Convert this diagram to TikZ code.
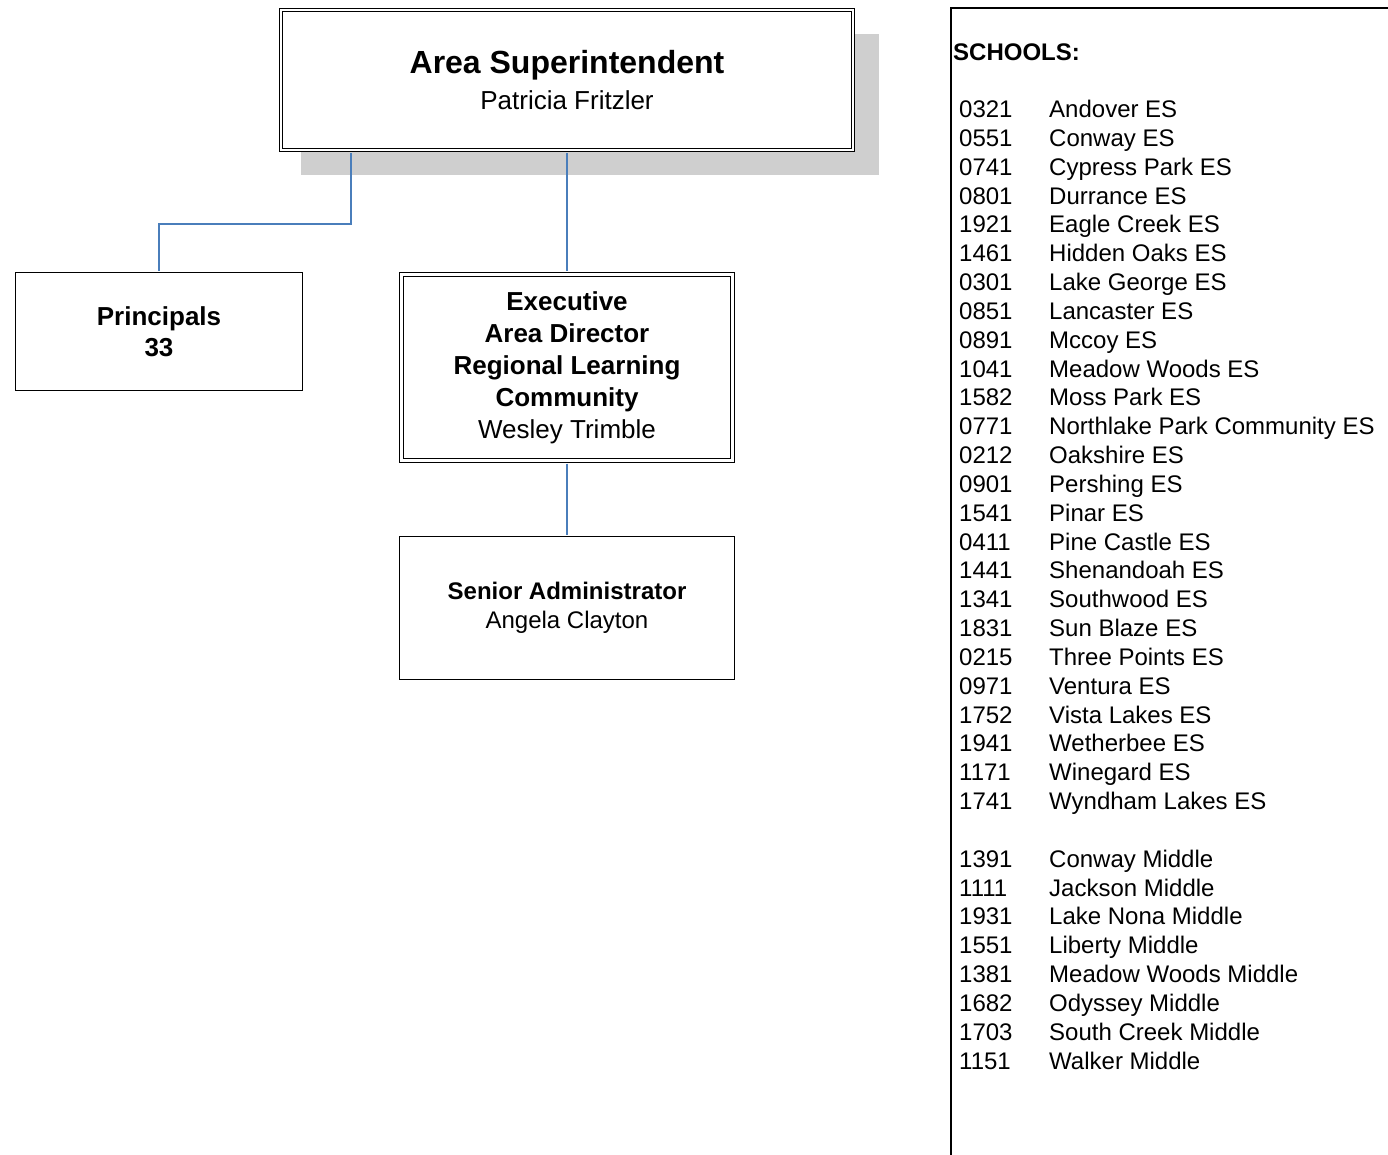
\documentclass[tikz,border=0pt]{standalone}
\usepackage{fontspec}
\setmainfont{Liberation Sans}
\usetikzlibrary{positioning,shadows}
\definecolor{linkblue}{HTML}{4A7EBB}
\definecolor{shadowgray}{HTML}{CFCFCF}

\begin{document}
\begin{tikzpicture}[x=1pt,y=-1pt,
  box/.style={draw,line width=1.3pt,align=center,inner sep=0pt,fill=white},
  dbox/.style={box,double,double distance=2.5pt,line width=1.2pt},
  link/.style={linkblue,line width=1.2pt},
  listtext/.style={anchor=base west,inner sep=0pt,font=\fontsize{24}{28}\selectfont}]
\useasboundingbox (0,0) rectangle (1388,1155);
% org chart boxes
\node[dbox,minimum width=572pt,minimum height=140pt,font=\fontsize{26}{36}\selectfont,
  drop shadow={shadow xshift=23pt,shadow yshift=-24pt,shadow scale=1.01,fill=shadowgray,opacity=1}]
  (sup) at (567,80) {{\fontsize{32}{36}\selectfont\bfseries Area Superintendent}\\
  Patricia Fritzler};
\node[box,minimum width=287pt,minimum height=118pt,font=\fontsize{26}{31}\selectfont\bfseries]
  (prin) at (159,331.5) {Principals\\ 33};
\node[dbox,minimum width=331pt,minimum height=186pt,font=\fontsize{26}{32}\selectfont\bfseries]
  (exec) at (567,367.5) {Executive\\ Area Director\\ Regional Learning\\ Community\\
  {\mdseries Wesley Trimble}};
\node[box,minimum width=335pt,minimum height=143pt,font=\fontsize{24}{29}\selectfont\bfseries]
  (senior) at (567,608) {Senior Administrator\\ {\mdseries Angela Clayton}};
% connectors
\coordinate (bend) at (351,224);
\draw[link,shorten <=2.5pt,shorten >=0.6pt] (sup.south -| bend) -- (bend) -| (prin.north);
\draw[link,shorten <=2.5pt,shorten >=2.5pt] (sup.south) -- (exec.north);
\draw[link,shorten <=2.5pt,shorten >=0.6pt] (exec.south) -- (senior.north);
% schools panel
\coordinate (panelbot) at (951,1155);
\coordinate (panelcorner) at (951,8);
\coordinate (panelright) at (1388,8);
\draw[line width=2pt] (panelbot) -- (panelcorner) -- (panelright);
\node[listtext,font=\fontsize{24}{28}\selectfont\bfseries] (head) at (953,60.6) {SCHOOLS:};
\foreach \num/\name [count=\i from 0] in {0321/Andover ES,0551/Conway ES,0741/Cypress Park ES,
  0801/Durrance ES,1921/Eagle Creek ES,1461/Hidden Oaks ES,0301/Lake George ES,
  0851/Lancaster ES,0891/Mccoy ES,1041/Meadow Woods ES,1582/Moss Park ES,
  0771/Northlake Park Community ES,0212/Oakshire ES,0901/Pershing ES,1541/Pinar ES,
  0411/Pine Castle ES,1441/Shenandoah ES,1341/Southwood ES,1831/Sun Blaze ES,
  0215/Three Points ES,0971/Ventura ES,1752/Vista Lakes ES,1941/Wetherbee ES,
  1171/Winegard ES,1741/Wyndham Lakes ES}{
  \node[listtext] (escode\i) at (959,{117.6+28.83*\i}) {\num};
  \node[listtext] (esname\i) at (1049,{117.6+28.83*\i}) {\name};
}
\foreach \num/\name [count=\i from 0] in {1391/Conway Middle,1111/Jackson Middle,
  1931/Lake Nona Middle,1551/Liberty Middle,1381/Meadow Woods Middle,
  1682/Odyssey Middle,1703/South Creek Middle,1151/Walker Middle}{
  \node[listtext] (mscode\i) at (959,{867.2+28.83*\i}) {\num};
  \node[listtext] (msname\i) at (1049,{867.2+28.83*\i}) {\name};
}
\end{tikzpicture}
\end{document}
